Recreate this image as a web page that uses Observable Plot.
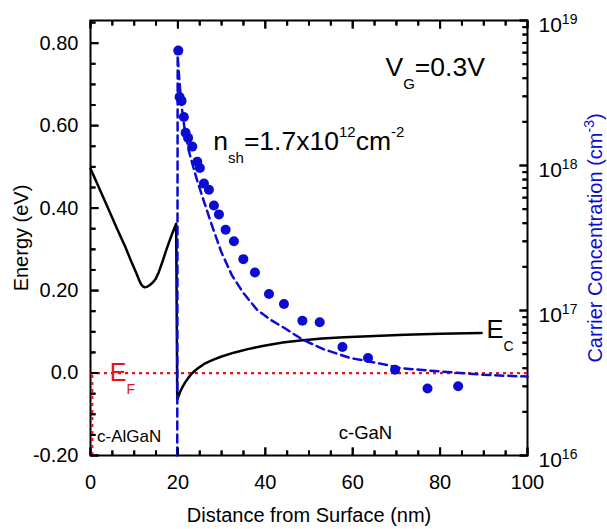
<!DOCTYPE html>
<html>
<head>
<meta charset="utf-8">
<script src="https://cdn.jsdelivr.net/npm/d3@7"></script>
<script src="https://cdn.jsdelivr.net/npm/@observablehq/plot@0.6"></script>
<style>
  html, body { margin: 0; padding: 0; background: #fff; }
  #wrap { position: relative; width: 607px; height: 529px; }
  #wrap svg { position: absolute; left: 0; top: 0; }
</style>
</head>
<body>
<div id="wrap"></div>
<script>
// ---------- data ----------
// conduction band edge Ec (eV) vs distance from surface (nm)
const ecX = [0, 2, 4, 6, 8, 9.5, 10.5, 11.1, 11.6, 12.0, 12.4, 12.9, 13.5, 14.2, 14.9, 15.6, 16.4, 17.2, 18.0, 18.8, 19.6,
             19.85, 20.1, 20.5, 21, 21.7, 22.5, 23.3, 24.5, 26, 28, 30, 33, 36, 40, 44, 48, 53, 58, 65, 72, 80, 89.5];
const ecE = [0.496, 0.448, 0.400, 0.352, 0.305, 0.266, 0.242, 0.226, 0.215, 0.210, 0.208, 0.209, 0.213, 0.219, 0.228, 0.244, 0.268, 0.294, 0.318, 0.341, 0.362,
             -0.064, -0.057, -0.046, -0.035, -0.022, -0.010, 0.000, 0.011, 0.022, 0.032, 0.040, 0.050, 0.058, 0.067, 0.074, 0.079, 0.084, 0.087, 0.090, 0.093, 0.095, 0.097];
// simulated carrier concentration (cm^-3), dashed
const simX = [19.85, 19.95, 20.3, 20.8, 21.5, 22.5, 23.5, 24.4, 26, 28, 30, 32.4, 35, 38, 41, 44.3, 48.5, 53.4, 59.5, 66.4, 71, 80, 90, 100];
const simC = [1e16, 5.75e18, 3.98e18, 2.63e18, 1.82e18, 1.26e18, 9.8e17, 7.9e17, 5.6e17, 3.7e17, 2.5e17, 1.74e17, 1.32e17, 1.02e17, 8.7e16, 7.6e16, 6.3e16, 5.4e16, 4.7e16, 4.3e16, 4.0e16, 3.8e16, 3.6e16, 3.5e16];
// measured carrier concentration (cm^-3), dots
const measX = [20.09, 20.38, 20.84, 21.37, 21.76, 22.33, 23.29, 24.44, 25.03, 25.95, 27.10, 28.24, 29.39, 30.92, 32.82, 34.97, 37.63, 40.84, 44.27, 48.49, 52.45, 57.65, 63.51, 69.70, 77.12, 84.13];
const measC = [6.2e18, 2.97e18, 2.79e18, 2.16e18, 1.68e18, 1.55e18, 1.35e18, 1.06e18, 9.6e17, 7.5e17, 6.8e17, 5.3e17, 4.6e17, 3.6e17, 3.0e17, 2.26e17, 1.83e17, 1.30e17, 1.11e17, 8.5e16, 8.3e16, 5.6e16, 4.7e16, 3.9e16, 2.9e16, 3.0e16];
// Fermi level
const efLevel = [0];
const efEdgeX = [0.4];

// ticks
const xMajor = [0, 20, 40, 60, 80, 100];
const xMinor = [5, 10, 15, 25, 30, 35, 45, 50, 55, 65, 70, 75, 85, 90, 95];
const eMajor = [-0.2, 0, 0.2, 0.4, 0.6, 0.8];
const eMinor = [-0.15, -0.1, -0.05, 0.05, 0.1, 0.15, 0.25, 0.3, 0.35, 0.45, 0.5, 0.55, 0.65, 0.7, 0.75, 0.85];
const cMajor = [1e16, 1e17, 1e18, 1e19];
const cMinor = [2e16, 3e16, 4e16, 5e16, 6e16, 7e16, 8e16, 9e16,
                2e17, 3e17, 4e17, 5e17, 6e17, 7e17, 8e17, 9e17,
                2e18, 3e18, 4e18, 5e18, 6e18, 7e18, 8e18, 9e18];

// ---------- layout ----------
const W = 607, H = 529;
const mL = 90, mR = 80, mT = 20, mB = 74;
const iw = W - mL - mR, ih = H - mT - mB;
const X0 = 0, X1 = 100, E0 = -0.2, E1 = 0.855;
const C0 = 1e16, C1 = 1e19;
const nmPerPx = (X1 - X0) / iw, evPerPx = (E1 - E0) / ih;
const MAJ = 8, MIN = 5;
const BLUE = "#0b0bd1", RED = "#e8131b";

// secondary (log) axis mapped onto the energy axis range
const cToE = d3.scaleLog().domain([C0, C1]).range([E0, E1]);

const ecData = ecX.map((x, i) => ({x, e: ecE[i]}));
const simData = simX.map((x, i) => ({x, c: simC[i]}));
const measData = measX.map((x, i) => ({x, c: measC[i]}));

// inward tick segments
const leftTicks = [...eMajor.map(v => ({v, len: MAJ})), ...eMinor.map(v => ({v, len: MIN}))]
  .map(t => ({x1: X0, x2: X0 + t.len * nmPerPx, y1: t.v, y2: t.v}));
const bottomTicks = [...xMajor.map(v => ({v, len: MAJ})), ...xMinor.map(v => ({v, len: MIN}))]
  .map(t => ({x1: t.v, x2: t.v, y1: E0, y2: E0 + t.len * evPerPx}));
const topTicks = [...xMajor.map(v => ({v, len: MAJ})), ...xMinor.map(v => ({v, len: MIN}))]
  .map(t => ({x1: t.v, x2: t.v, y1: E1 - t.len * evPerPx, y2: E1}));
const rightTicks = [...cMajor.map(v => ({v, len: MAJ})), ...cMinor.map(v => ({v, len: MIN}))]
  .map(t => ({x1: X1 - t.len * nmPerPx, x2: X1, y1: cToE(t.v), y2: cToE(t.v)}));
const allTicks = [...leftTicks, ...bottomTicks, ...topTicks, ...rightTicks];

const seg = {x1: "x1", x2: "x2", y1: "y1", y2: "y2", stroke: "black", strokeWidth: 2};

const chart = Plot.plot({
  width: W, height: H,
  marginLeft: mL, marginRight: mR, marginTop: mT, marginBottom: mB,
  style: {fontFamily: "Liberation Sans", fontSize: "14px", background: "transparent", overflow: "visible"},
  x: {domain: [X0, X1], ticks: xMajor, tickSize: 0, tickPadding: 19, label: null, tickFormat: d => String(d)},
  y: {domain: [E0, E1], ticks: eMajor, tickSize: 0, tickPadding: 12, label: null,
      tickFormat: d => d === 0 ? "0.0" : d.toFixed(2)},
  marks: [
    Plot.frame({stroke: "black", strokeWidth: 2}),
    Plot.link(allTicks, seg),
    Plot.ruleY(efLevel, {y: d => d, stroke: RED, strokeWidth: 2.2, strokeDasharray: "3,4"}),
    Plot.ruleX(efEdgeX, {x: d => d, y1: E0, y2: 0, stroke: RED, strokeWidth: 2.2, strokeDasharray: "3,4"}),
    Plot.line(ecData, {x: "x", y: "e", stroke: "black", strokeWidth: 2.5, curve: "linear"}),
    Plot.line(simData, {x: "x", y: d => cToE(d.c), stroke: BLUE, strokeWidth: 2.5, strokeDasharray: "8,5", curve: "linear"}),
    Plot.dot(measData, {x: "x", y: d => cToE(d.c), r: 5, fill: BLUE, stroke: "none"}),
    // right (log) tick labels
    Plot.text(cMajor, {y: d => cToE(d), text: d => "10^{" + Math.round(Math.log10(d)) + "}", frameAnchor: "right", textAnchor: "start", dx: 11, dy: 5, fontSize: 21}),
    // axis titles
    Plot.text(["Energy (eV)"], {frameAnchor: "left", textAnchor: "middle", dx: -69, rotate: -90, fontSize: 20}),
    Plot.text(["Distance from Surface (nm)"], {frameAnchor: "bottom", textAnchor: "middle", dy: 66, fontSize: 20}),
    Plot.text(["Carrier Concentration (cm^{-3})"], {frameAnchor: "right", textAnchor: "middle", dx: 68, rotate: -90, fontSize: 20, fill: BLUE}),
    // annotations
    Plot.text(["V_{G}=0.3V"], {x: 67.5, y: 0.741, textAnchor: "start", fontSize: 26.5}),
    Plot.text(["n_{sh}=1.7x10^{12}cm^{-2}"], {x: 28.1, y: 0.562, textAnchor: "start", fontSize: 26.5}),
    Plot.text(["E_{C}"], {x: 90.6, y: 0.105, textAnchor: "start", fontSize: 25.5}),
    Plot.text(["E_{F}"], {x: 4.4, y: 0.0, textAnchor: "start", fontSize: 25, fill: RED}),
    Plot.text(["c-AlGaN"], {x: 1.5, y: -0.154, textAnchor: "start", fontSize: 17}),
    Plot.text(["c-GaN"], {x: 56.8, y: -0.145, textAnchor: "start", fontSize: 18.5})
  ]
});

document.getElementById("wrap").appendChild(chart);

// axis tick labels at 20px
chart.querySelectorAll('g[aria-label="x-axis tick label"], g[aria-label="y-axis tick label"]').forEach(g => {
  g.setAttribute("font-size", "20");
  g.style.fontSize = "20px";
});

// turn _{..} and ^{..} into real sub/superscript tspans
function richify(root) {
  root.querySelectorAll("text").forEach(t => {
    const s = t.textContent;
    if (!/[_^]\{/.test(s)) return;
    const fs = parseFloat(getComputedStyle(t).fontSize) || 20;
    const subOff = 0.5 * fs;
    const supOff = fs >= 24 ? 0.5 * fs : 0.38 * fs;
    const smallFs = fs >= 26 ? 15 : 14;
    const parts = s.split(/([_^]\{[^}]*\})/).filter(p => p.length);
    while (t.firstChild) t.removeChild(t.firstChild);
    let cur = 0;
    for (const p of parts) {
      const ts = document.createElementNS("http://www.w3.org/2000/svg", "tspan");
      let target = 0, txt = p, small = false;
      if (p.startsWith("_{")) { target = subOff; txt = p.slice(2, -1); small = true; }
      else if (p.startsWith("^{")) { target = -supOff; txt = p.slice(2, -1); small = true; }
      const d = target - cur;
      if (d !== 0) ts.setAttribute("dy", d.toFixed(2));
      cur = target;
      if (small) ts.setAttribute("font-size", String(smallFs));
      ts.textContent = txt;
      t.appendChild(ts);
    }
  });
}
richify(chart);

// also paint the tick segments directly, positioned with the plot's own scales
try {
  const sx = chart.scale("x"), sy = chart.scale("y");
  const g = document.createElementNS("http://www.w3.org/2000/svg", "g");
  g.setAttribute("stroke", "black");
  g.setAttribute("stroke-width", "2");
  g.setAttribute("transform", "translate(0.5,0.5)");
  for (const t of allTicks) {
    const ln = document.createElementNS("http://www.w3.org/2000/svg", "line");
    ln.setAttribute("x1", sx.apply(t.x1)); ln.setAttribute("x2", sx.apply(t.x2));
    ln.setAttribute("y1", sy.apply(t.y1)); ln.setAttribute("y2", sy.apply(t.y2));
    g.appendChild(ln);
  }
  chart.appendChild(g);
} catch (e) {}
</script>
</body>
</html>
